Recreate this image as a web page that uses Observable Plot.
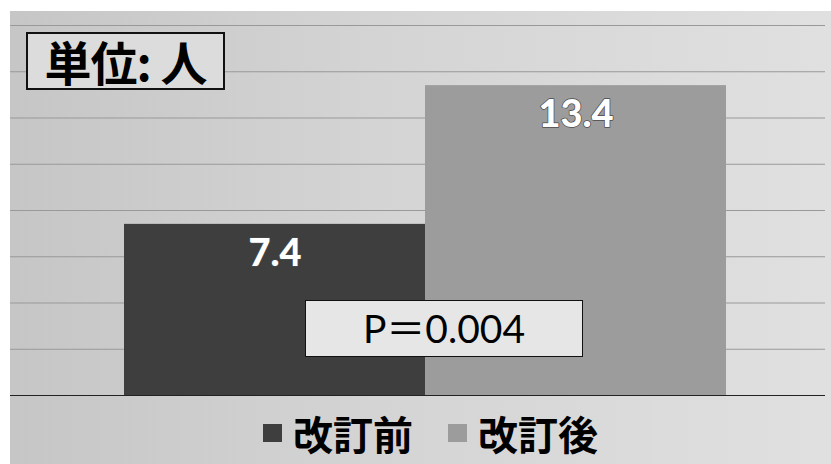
<!DOCTYPE html>
<html>
<head>
<meta charset="utf-8">
<script src="https://cdn.jsdelivr.net/npm/d3@7"></script>
<script src="https://cdn.jsdelivr.net/npm/@observablehq/plot@0.6"></script>
<style>
  html, body { margin: 0; padding: 0; background: #fff; }
  #chart { position: relative; width: 831px; height: 464px; overflow: hidden; background: #fff; }
  #panel {
    position: absolute; left: 10px; top: 11px; right: 0; bottom: 0;
    background: linear-gradient(90deg, #c6c6c6 0%, #d4d4d4 45%, #e0e0e0 100%);
  }
  #plot { position: absolute; left: 0; top: 0; }
  .unit-box {
    position: absolute; left: 26px; top: 32px; width: 195px; height: 54px;
    border: 2px solid #111; background: #dcdcdc;
    font-family: "Noto Sans CJK JP", sans-serif; font-weight: 700; font-size: 47px;
    line-height: 54px; color: #000; text-align: center; letter-spacing: -1px;
  }
  .p-box {
    position: absolute; left: 305px; top: 300px; width: 276px; height: 55px;
    border: 1.5px solid #111; background: #e6e6e6;
    font-family: "Lato", "Noto Sans CJK JP", sans-serif; font-weight: 400; font-size: 39px;
    line-height: 55px; color: #000; text-align: center;
  }
  .legend {
    position: absolute; left: 263px; top: 409px; height: 48px;
    display: flex; align-items: center;
    font-family: "Noto Sans CJK JP", sans-serif; font-weight: 700; font-size: 40px; color: #000;
  }
  .legend .item { display: flex; align-items: center; }
  .legend .swatch { width: 19px; height: 18px; margin-right: 11px; }
  .legend .item + .item { margin-left: 35px; }
</style>
</head>
<body>
<div id="chart">
  <div id="panel"></div>
</div>
<script>
// Two series, one category: mean count before and after the revision
const seriesNames = ["改訂前", "改訂後"];
const seriesValues = [7.4, 13.4];
const seriesColors = ["#3e3e3e", "#9c9c9c"];
const gridTicks = [0, 2, 4, 6, 8, 10, 12, 14, 16];
const unitLabel = "単位: 人";
const pValueLabel = "P＝0.004";

const rows = seriesNames.map((name, i) => ({name, value: seriesValues[i]}));

const plot = Plot.plot({
  width: 831,
  height: 410,
  marginTop: 25,
  marginBottom: 15,
  marginLeft: 10,
  marginRight: 6,
  style: {background: "transparent", overflow: "visible"},
  x: {type: "band", domain: seriesNames, range: [123, 726], padding: 0, axis: null},
  y: {domain: [0, 16], axis: null},
  color: {domain: seriesNames, range: seriesColors},
  marks: [
    Plot.ruleY(gridTicks.filter(d => d > 0), {stroke: "#999", strokeWidth: 1}),
    Plot.barY(rows, {x: "name", y: "value", fill: "name", inset: 0}),
    Plot.ruleY([0], {stroke: "#222", strokeWidth: 1.2}),
    Plot.text(rows, {
      x: "name", y: "value", text: d => d.value.toFixed(1),
      dy: 29, fill: "#fff", stroke: "#4a4a4a", strokeWidth: 1.5, paintOrder: "stroke",
      fontFamily: "Lato, 'DejaVu Sans', sans-serif", fontWeight: 900, fontSize: 38
    })
  ]
});
plot.id = "plot";
const chart = document.getElementById("chart");
chart.appendChild(plot);

// Unit annotation
const unitBox = document.createElement("div");
unitBox.className = "unit-box";
unitBox.textContent = unitLabel;
chart.appendChild(unitBox);

// Significance annotation
const pBox = document.createElement("div");
pBox.className = "p-box";
pBox.textContent = pValueLabel;
chart.appendChild(pBox);

// Legend below the bars
const legend = document.createElement("div");
legend.className = "legend";
seriesNames.forEach((name, i) => {
  const item = document.createElement("div");
  item.className = "item";
  const sw = document.createElement("span");
  sw.className = "swatch";
  sw.style.background = seriesColors[i];
  const label = document.createElement("span");
  label.textContent = name;
  item.appendChild(sw);
  item.appendChild(label);
  legend.appendChild(item);
});
chart.appendChild(legend);
</script>
</body>
</html>
